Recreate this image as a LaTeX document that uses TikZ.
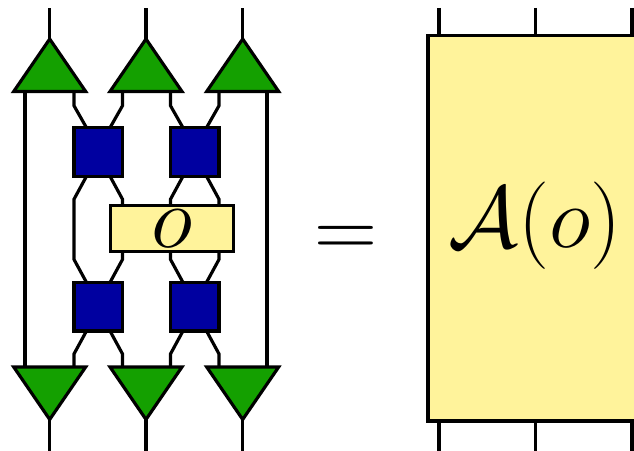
\documentclass[tikz,border=0pt]{standalone}
\usepackage{amsmath}
\usepackage{amssymb}
\usepackage{xcolor}
\usepackage{tikz}
\usetikzlibrary{shapes.geometric}
\definecolor{isogreen}{RGB}{20,160,0}
\definecolor{unitblue}{RGB}{0,0,160}
\definecolor{opyellow}{RGB}{255,243,155}
\tikzset{
	isoup/.style = {draw, fill = isogreen, isosceles triangle, isosceles triangle stretches, shape border rotate = 90, minimum width = .72cm, minimum height = .525cm, inner sep = 0, outer sep = 0, anchor = lower side},
	isodown/.style = {isoup, shape border rotate = 270},
	unitbox/.style = {draw, fill = unitblue, minimum width = .485cm, minimum height = .485cm, inner sep = 0, outer sep = 0},
	opbox/.style = {draw, fill = opyellow, inner sep = 0, outer sep = 0}
}
\begin{document}
\begin{tikzpicture}[line width = .9pt]
		\useasboundingbox (0,0) rectangle (6.34,4.51);
		%Isometries with their free legs
		\foreach \i/\x in {1/.497,2/1.46,3/2.427}{
		\node[isoup] (tu\i) at (\x,3.595) {};
		\node[isodown] (td\i) at (\x,.84) {};
		\coordinate (lu\i) at (\x,4.43);
		\coordinate (ld\i) at (\x,0);
		\draw (tu\i.apex)--(lu\i);
		\draw (td\i.apex)--(ld\i);
		}
		%Unitaries and the operator
		\node[unitbox] (s1) at (.9825,2.99) {};
		\node[unitbox] (s2) at (1.9475,2.99) {};
		\node[unitbox] (s3) at (.9825,1.443) {};
		\node[unitbox] (s4) at (1.9475,1.443) {};
		\node[opbox, minimum width = 1.23cm, minimum height = .46cm] (op) at (1.72,2.225) {\Huge $o$};
		%Wires to the isometries
		\foreach \s/\l/\r in {s1/tu1/tu2,s2/tu2/tu3}{
		\draw ([xshift=.125cm]\s.north west)--++(-.125,.22)--(\s.north west |- \l.lower side);
		\draw ([xshift=-.125cm]\s.north east)--++(.125,.22)--(\s.north east |- \r.lower side);
		}
		\foreach \s/\l/\r in {s3/td1/td2,s4/td2/td3}{
		\draw ([xshift=.125cm]\s.south west)--++(-.125,-.23)--(\s.south west |- \l.lower side);
		\draw ([xshift=-.125cm]\s.south east)--++(.125,-.23)--(\s.south east |- \r.lower side);
		}
		%Wires to the operator
		\draw ([xshift=-.125cm]s1.south east)--++(.125,-.23)--(s1.south east |- op.north);
		\draw ([xshift=.125cm]s2.south west)--++(-.125,-.23)--(s2.south west |- op.north);
		\draw ([xshift=-.125cm]s2.south east)--++(.125,-.23)--(s2.south east |- op.north);
		\draw ([xshift=-.125cm]s3.north east)--++(.125,.23)--(s3.north east |- op.south);
		\draw ([xshift=.125cm]s4.north west)--++(-.125,.23)--(s4.north west |- op.south);
		\draw ([xshift=-.125cm]s4.north east)--++(.125,.23)--(s4.north east |- op.south);
		%Wire passing the operator
		\draw ([xshift=.125cm]s1.south west)--++(-.125,-.23)--([yshift=.23cm]s3.north west)--([xshift=.125cm]s3.north west);
		%Outer wires
		\draw ([xshift=-.247cm]tu1.lower side)--([xshift=-.247cm]td1.lower side);
		\draw ([xshift=.243cm]tu3.lower side)--([xshift=.243cm]td3.lower side);
		%Right hand side
		\node (eq) at (3.455,2.095) {\Huge $=$};
		\node[opbox, minimum width = 2.08cm, minimum height = 3.855cm] (A) at (5.32,2.2275) {};
		\node (Atext) at (5.35,2.25) {\Huge $\mathcal{A}(o)$};
		\foreach \i/\x in {1/4.39,2/5.355,3/6.32}{
		\coordinate (au\i) at (\x,4.43);
		\coordinate (ad\i) at (\x,0);
		\draw (au\i)--(au\i |- A.north);
		\draw (ad\i)--(ad\i |- A.south);
		}
\end{tikzpicture}
\end{document}
